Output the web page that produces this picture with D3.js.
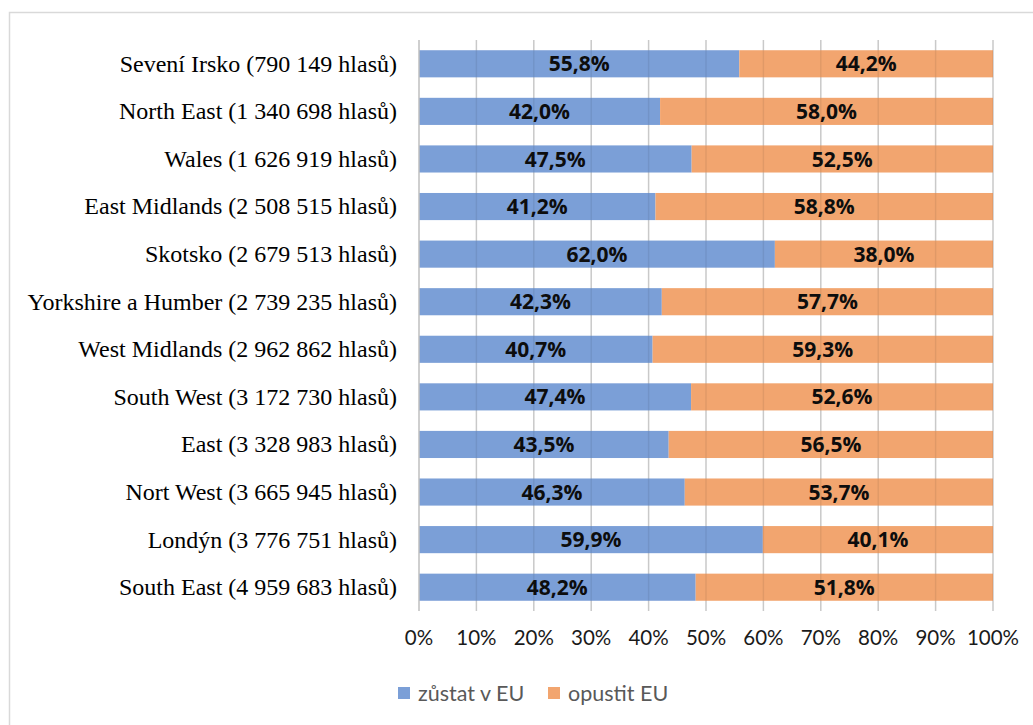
<!DOCTYPE html>
<html>
<head>
<meta charset="utf-8">
<script src="https://cdn.jsdelivr.net/npm/d3@7"></script>
<style>
  body { margin:0; background:#fff; }
  svg { display:block; }
</style>
</head>
<body>
<div id="canvas"></div>
<script>
// data
var regions = ['Sevení Irsko (790 149 hlasů)', 'North East (1 340 698 hlasů)', 'Wales (1 626 919 hlasů)',
    'East Midlands (2 508 515 hlasů)', 'Skotsko (2 679 513 hlasů)', 'Yorkshire a Humber (2 739 235 hlasů)',
    'West Midlands (2 962 862 hlasů)', 'South West (3 172 730 hlasů)', 'East (3 328 983 hlasů)',
    'Nort West (3 665 945 hlasů)', 'Londýn (3 776 751 hlasů)', 'South East (4 959 683 hlasů)'];
var remain = [55.8, 42.0, 47.5, 41.2, 62.0, 42.3, 40.7, 47.4, 43.5, 46.3, 59.9, 48.2];
var leave  = [44.2, 58.0, 52.5, 58.8, 38.0, 57.7, 59.3, 52.6, 56.5, 53.7, 40.1, 51.8];
var seriesNames = ['zůstat v EU', 'opustit EU'];
var colors = ['#7b9fd7', '#f2a56f'];
var ticks = [0, 10, 20, 30, 40, 50, 60, 70, 80, 90, 100];

var W = 1033, H = 725;
var m = {t:40, r:40, b:114, l:419};

var svg = d3.select('#canvas').append('svg')
    .attr('width', W).attr('height', H);

// outer frame
svg.append('rect')
    .attr('x', 9.5).attr('y', 12.5)
    .attr('width', W).attr('height', H)
    .attr('fill', 'none').attr('stroke', '#d9d9d9').attr('stroke-width', 1.5);

var plot = svg.append('g').attr('transform', 'translate(' + m.l + ',' + m.t + ')');

var scaleX = d3.scaleLinear().domain([0, 100]).range([0, 574]);
var scaleY = d3.scaleBand().domain(regions).range([0, 571]).paddingInner(0.43).paddingOuter(0.215);

// gridlines
plot.selectAll('.grid').data(ticks.slice(1)).enter()
    .append('line')
    .attr('x1', function(d){ return scaleX(d); })
    .attr('x2', function(d){ return scaleX(d); })
    .attr('y1', 0).attr('y2', 571)
    .attr('stroke', '#d9d9d9').attr('stroke-width', 1.5);

var rows = regions.map(function(r, i){ return {region:r, vals:[remain[i], leave[i]]}; });

var stack = d3.stack().keys([0, 1]).value(function(d, k){ return d.vals[k]; })(rows);

stack.forEach(function(layer, k){
    plot.append('g').selectAll('rect').data(layer).enter()
        .append('rect')
        .attr('x', function(d){ return scaleX(d[0]); })
        .attr('width', function(d){ return scaleX(d[1]) - scaleX(d[0]); })
        .attr('y', function(d){ return scaleY(d.data.region); })
        .attr('height', scaleY.bandwidth())
        .attr('fill', colors[k]);
});

// gridlines show faintly through the bars
plot.selectAll('.gridover').data(ticks.slice(1)).enter()
    .append('line')
    .attr('x1', function(d){ return scaleX(d); })
    .attr('x2', function(d){ return scaleX(d); })
    .attr('y1', 0).attr('y2', 571)
    .attr('stroke', 'rgba(0,0,0,0.07)').attr('stroke-width', 1.5);

stack.forEach(function(layer, k){
    plot.append('g').selectAll('text').data(layer).enter()
        .append('text')
        .attr('x', function(d){ return scaleX((d[0] + d[1]) / 2); })
        .attr('y', function(d){ return scaleY(d.data.region) + scaleY.bandwidth() / 2; })
        .attr('dy', '0.36em')
        .attr('text-anchor', 'middle')
        .style('font-family', '"Open Sans", sans-serif')
        .style('font-weight', '700')
        .style('font-size', '21px')
        .attr('fill', '#0d0d0d')
        .text(function(d){ return d.data.vals[k].toFixed(1).replace('.', ',') + '%'; });
});

// category axis line
plot.append('line')
    .attr('x1', 0).attr('x2', 0).attr('y1', 0).attr('y2', 571)
    .attr('stroke', '#bfbfbf').attr('stroke-width', 1.5);

// category labels
plot.selectAll('.cat').data(regions).enter()
    .append('text')
    .attr('x', -22)
    .attr('y', function(d){ return scaleY(d) + scaleY.bandwidth() / 2; })
    .attr('dy', '0.33em')
    .attr('text-anchor', 'end')
    .style('font-family', '"Liberation Serif", serif')
    .style('font-size', '24px')
    .attr('fill', '#000')
    .text(function(d){ return d; });

// x tick labels
plot.selectAll('.tick').data(ticks).enter()
    .append('text')
    .attr('x', function(d){ return scaleX(d); })
    .attr('y', 605)
    .attr('text-anchor', 'middle')
    .style('font-family', 'Lato, sans-serif')
    .style('font-size', '20.5px')
    .attr('fill', '#1a1a1a')
    .text(function(d){ return d + '%'; });

// legend
var legendX = [398, 548];
var legend = svg.selectAll('.legend').data(seriesNames).enter()
    .append('g')
    .attr('transform', function(d, i){ return 'translate(' + legendX[i] + ',693)'; });
legend.append('rect')
    .attr('x', 0).attr('y', -6).attr('width', 12).attr('height', 12)
    .attr('fill', function(d, i){ return colors[i]; });
legend.append('text')
    .attr('x', 20).attr('dy', '0.36em')
    .style('font-family', 'Lato, sans-serif')
    .style('font-size', '21.5px')
    .attr('fill', '#595959')
    .text(function(d){ return d; });
</script>
</body>
</html>
